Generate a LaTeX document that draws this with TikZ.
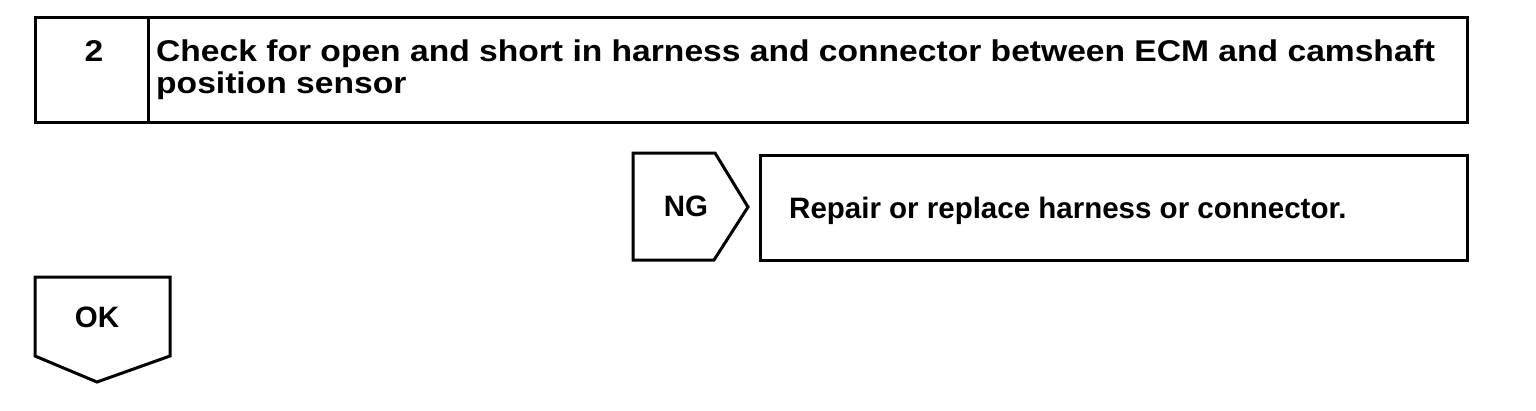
\documentclass[tikz,border=0pt]{standalone}
\usepackage{fontspec}
\setmainfont{Liberation Sans}
\newfontfamily\titlefont[FakeStretch=1.12]{Liberation Sans}
\tikzset{
  stepbox/.style={draw=black, line width=3pt, line join=miter},
  labeltext/.style={inner sep=0pt, anchor=base, font=\fontsize{29.5}{32}\selectfont\bfseries},
  titletext/.style={inner sep=0pt, anchor=base west, font=\titlefont\fontsize{30}{32}\selectfont\bfseries},
}
\begin{document}
\begin{tikzpicture}[x=1pt, y=-1pt]

            \useasboundingbox (0,0) rectangle (1536,410);

            % step box
            \draw[stepbox] (35,17) rectangle (1467,122);
            \draw[stepbox] (148,17) -- (148,122);
            \node[labeltext, font=\titlefont\fontsize{30}{32}\selectfont\bfseries] (N2) at (94,61) {2};
            \node[titletext] (T1) at (156,61) {Check for open and short in harness and connector between ECM and camshaft};
            \node[titletext] (T2) at (156,93) {position sensor};

            % NG branch
            \draw[stepbox] (633,153) -- (715,153) -- (748,207) -- (714,260) -- (633,260) -- cycle;
            \node[labeltext] (NG) at (686,216) {NG};
            \draw[stepbox] (760,155) rectangle (1467,260);
            \node[labeltext, anchor=base west] (REP) at (789,218) {Repair or replace harness or connector.};

            % OK branch
            \draw[stepbox] (35,277) -- (170,277) -- (170,356) -- (97,382) -- (35,356) -- cycle;
            \node[labeltext] (OK) at (97,327) {OK};
        \end{tikzpicture}
\end{document}
